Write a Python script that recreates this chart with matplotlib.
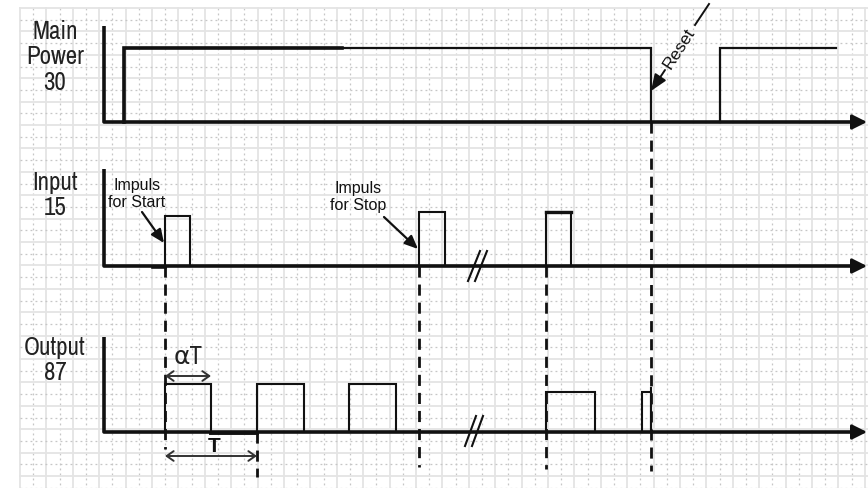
import matplotlib
matplotlib.use("Agg")
import matplotlib.pyplot as plt
import numpy as np

# ---- data (time axis in drawing units, levels per channel) ----
t_axis_start = 104
t_axis_end = 867

main_label = "Main\nPower\n30"
main_base = 123
main_high = 74
main_rise = [124, 720]
main_fall = [651, None]      # None: still high at the end of the drawing
main_end = 836

input_label = "Input\n15"
input_base = 267
input_pulses = [(165, 190), (419, 445), (546, 571)]
input_heights = [50, 54, 54]

output_label = "Output\n87"
output_base = 433
output_pulses = [(165, 211), (257, 304), (349, 396), (546, 595), (642, 651)]
output_heights = [48, 48, 48, 40, 40]

dashed_x = [165, 257, 419, 546, 651]
dashed_y0 = [267, 433, 267, 267, 123]
dashed_y1 = [450, 478, 468, 470, 472]

FIG_W, FIG_H = 868, 489
fig = plt.figure(figsize=(FIG_W / 100, FIG_H / 100), dpi=100)
ax = fig.add_axes([0, 0, 1, 1])
ax.set_xlim(0, FIG_W)
ax.set_ylim(FIG_H, 0)
ax.axis("off")

# ---- background grid ----
gx = np.arange(20, FIG_W, 13.2)
gy = np.arange(9, FIG_H, 11.7)
for i, x in enumerate(gx):
    if i % 2 == 0:
        ax.plot([x, x], [9, FIG_H], color="#e4e4e4", lw=1.3, zorder=0)
    else:
        ax.plot([x, x], [9, FIG_H], color="#c6c6c6", lw=0.9, ls=(0, (1.5, 2.5)), zorder=0)
for i, y in enumerate(gy):
    if i % 2 == 0:
        ax.plot([20, FIG_W], [y, y], color="#e4e4e4", lw=1.3, zorder=0)
    else:
        ax.plot([20, FIG_W], [y, y], color="#c6c6c6", lw=0.9, ls=(0, (1.5, 2.5)), zorder=0)

K = "#111111"
narrow = ["Archivo Narrow", "PT Sans Narrow", "DejaVu Sans"]
sans = ["Liberation Sans", "DejaVu Sans"]

def axis(base, top):
    ax.plot([t_axis_start, t_axis_start, t_axis_end - 12], [top, base, base],
            color=K, lw=2.6, solid_capstyle="butt", zorder=3)
    ax.annotate("", xy=(t_axis_end, base), xytext=(t_axis_end - 14, base),
                arrowprops=dict(arrowstyle="-|>,head_length=0.9,head_width=0.45",
                                color=K, lw=2.0, shrinkA=0, shrinkB=0), zorder=4)

def pulse(t0, t1, base, h, lw=1.5):
    ax.plot([t0, t0, t1, t1], [base, base - h, base - h, base],
            color=K, lw=lw, solid_joinstyle="miter", zorder=3)

# ---- Main power ----
axis(main_base, 27)
top = main_base - main_high
for r, f in zip(main_rise, main_fall):
    if f is None:
        ax.plot([r, r, main_end], [main_base, top, top], color=K, lw=1.6,
                solid_joinstyle="miter", zorder=3)
    else:
        pulse(r, f, main_base, main_high, lw=1.6)
ax.plot([124, 124, 342], [main_base, top, top],
        color=K, lw=2.6, solid_joinstyle="miter", zorder=3)

# ---- Input ----
axis(input_base, 170)
for (a, b), h in zip(input_pulses, input_heights):
    pulse(a, b, input_base, h)
ax.plot([546, 571], [input_base - 54, input_base - 54], color=K, lw=2.4, zorder=3)
ax.plot([153, 165], [input_base + 1, input_base + 1], color=K, lw=2.6, zorder=3)

# ---- Output ----
axis(output_base, 338)
for (a, b), h in zip(output_pulses, output_heights):
    pulse(a, b, output_base, h)
ax.plot([651, 651], [output_base, output_base - 44], color=K, lw=1.5, zorder=3)
ax.plot([211, 257], [output_base + 1, output_base + 1], color=K, lw=2.8, zorder=3)

# ---- dashed verticals ----
for x, y0, y1 in zip(dashed_x, dashed_y0, dashed_y1):
    ax.plot([x, x], [y0, y1], color=K, lw=2.0, ls=(0, (4, 2.5)), zorder=2)

# ---- break marks ----
for (x0, y0, x1, y1) in [(487, 252, 475, 282), (480, 252, 468, 282)]:
    ax.plot([x0, x1], [y0, y1], color=K, lw=1.5, zorder=4)
for (x0, y0, x1, y1) in [(483, 417, 472, 447), (476, 417, 465, 447)]:
    ax.plot([x0, x1], [y0, y1], color=K, lw=1.5, zorder=4)

# ---- channel labels ----
for lab, y in [(main_label, 57), (input_label, 195), (output_label, 360)]:
    ax.text(55, y, lab, ha="center", va="center", fontsize=18, color="#222222",
            family=narrow, linespacing=1.12, zorder=5)

# ---- annotations ----
ax.text(137, 194, "Impuls\nfor Start", ha="center", va="center", fontsize=11.5,
        family=sans, color=K, linespacing=1.2, zorder=5)
ax.annotate("", xy=(164, 244), xytext=(142, 213),
            arrowprops=dict(arrowstyle="-|>,head_length=0.8,head_width=0.35",
                            color=K, lw=1.6, shrinkA=0, shrinkB=0), zorder=5)
ax.text(358, 197, "Impuls\nfor Stop", ha="center", va="center", fontsize=11.5,
        family=sans, color=K, linespacing=1.2, zorder=5)
ax.annotate("", xy=(418, 250), xytext=(384, 218),
            arrowprops=dict(arrowstyle="-|>,head_length=0.8,head_width=0.35",
                            color=K, lw=1.6, shrinkA=0, shrinkB=0), zorder=5)

# Reset
ax.plot([709, 695], [5, 26], color=K, lw=1.4, zorder=5)
ax.text(679, 49, "Reset", ha="center", va="center", rotation=57, fontsize=12.5,
        family=sans, color=K, zorder=5)
ax.annotate("", xy=(651, 92), xytext=(665, 71),
            arrowprops=dict(arrowstyle="-|>,head_length=1.0,head_width=0.4",
                            color=K, lw=1.4, shrinkA=0, shrinkB=0), zorder=5)

# alpha T
ax.annotate("", xy=(211, 377), xytext=(165, 377),
            arrowprops=dict(arrowstyle="<->,head_length=0.5,head_width=0.35",
                            color="#333333", lw=1.4, shrinkA=0, shrinkB=0), zorder=5)
ax.text(188, 357, "αT", ha="center", va="center", fontsize=18, family=narrow,
        color="#222222", zorder=5)

# T
ax.annotate("", xy=(257, 457), xytext=(165, 457),
            arrowprops=dict(arrowstyle="<->,head_length=0.5,head_width=0.35",
                            color="#333333", lw=1.4, shrinkA=0, shrinkB=0), zorder=5)
ax.text(214, 452, "T", ha="center", va="baseline", fontsize=15, fontweight="bold",
        family=sans, color=K, zorder=5)

fig.savefig("out.png", dpi=100, facecolor="white")
